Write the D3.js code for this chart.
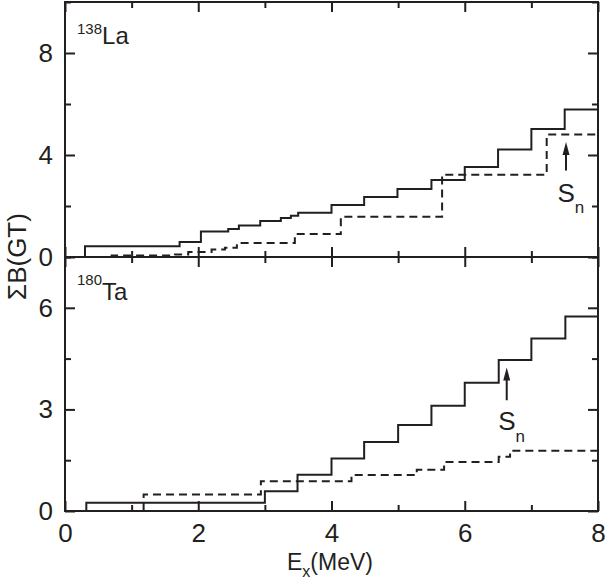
<!DOCTYPE html>
<html>
<head>
<meta charset="utf-8">
<script src="https://cdn.jsdelivr.net/npm/d3@7"></script>
<style>
  html, body { margin: 0; padding: 0; background: #fff; }
  svg { display: block; font-family: "Liberation Sans", Arial, sans-serif; }
</style>
</head>
<body>
<svg id="chart" width="605" height="584"></svg>
<script>
// ---------- data ----------
// 138La: cumulative B(GT) step functions (step edge in MeV, level after the step)
const laSolidEdges  = [0.30, 1.72, 2.04, 2.45, 2.61, 2.93, 3.24, 3.39, 3.50, 4.00, 4.49, 4.99, 5.50, 6.00, 6.50, 7.00, 7.50];
const laSolidLevels = [0.42, 0.59, 1.00, 1.10, 1.24, 1.41, 1.53, 1.62, 1.74, 2.04, 2.35, 2.67, 3.02, 3.53, 4.22, 5.02, 5.78];
const laDashEdges   = [0.70, 1.65, 1.85, 2.20, 2.40, 2.58, 3.45, 4.14, 5.66, 7.23];
const laDashLevels  = [0.06, 0.10, 0.20, 0.29, 0.36, 0.55, 0.90, 1.58, 3.23, 4.80];
// 180Ta
const taSolidEdges  = [0.32, 3.00, 3.49, 4.00, 4.49, 5.00, 5.50, 6.00, 6.51, 7.00, 7.51];
const taSolidLevels = [0.24, 0.58, 1.07, 1.55, 2.04, 2.54, 3.11, 3.79, 4.46, 5.09, 5.74];
const taDashEdges   = [1.18, 2.94, 4.30, 5.28, 5.69, 6.51, 6.68];
const taDashLevels  = [0.49, 0.88, 1.06, 1.22, 1.45, 1.60, 1.78];
// neutron separation energy markers: [Sn in MeV, arrow tail value, arrow tip value, label value]
const laSn = [7.52, 3.39, 4.51, 2.16];
const taSn = [6.63, 3.27, 4.24, 2.39];

const xMax = 8;
const xMajorTicks = [0, 2, 4, 6, 8];
const xMinorTicks = [1, 3, 5, 7];
const laYMajor = [0, 4, 8];
const laYMinor = [2, 6, 10];
const taYMajor = [0, 3, 6];
const taYMinor = [1.5, 4.5, 7.5];

// ---------- layout ----------
const left = 65, right = 598, top1 = 2, mid = 257, bot = 511;
const ink = "#231f20";
const svg = d3.select("#chart");

const x = d3.scaleLinear([0, xMax], [left, right]);
const yLa = d3.scaleLinear([0, 10], [mid, top1]);
const yTa = d3.scaleLinear([0, 7.5], [bot, mid]);

function stepPoints(edges, levels) {
  const pts = [[edges[0], 0]];
  edges.forEach((e, i) => pts.push([e, levels[i]]));
  pts.push([xMax, levels[levels.length - 1]]);
  return pts;
}

function drawPanel(y, yMajor, yMinor, showXLabels, solidE, solidL, dashE, dashL, sn, isoMass, isoName, isoSupDy, isoBase) {
  const g = svg.append("g");
  const line = d3.line().x(d => x(d[0])).y(d => y(d[1])).curve(d3.curveStepAfter);

  g.append("path").datum(stepPoints(solidE, solidL))
    .attr("d", line).attr("fill", "none").attr("stroke", ink)
    .attr("stroke-width", 2).attr("stroke-linejoin", "miter");
  g.append("path").datum(stepPoints(dashE, dashL))
    .attr("d", line).attr("fill", "none").attr("stroke", ink)
    .attr("stroke-width", 2).attr("stroke-dasharray", "8,5");

  const [y0, y1] = y.range();
  const axes = [
    [d3.axisBottom(x).tickValues(xMajorTicks).tickSize(-10), `translate(0,${y0})`, showXLabels, 13],
    [d3.axisBottom(x).tickValues(xMinorTicks).tickSize(-6), `translate(0,${y0})`, false, 0],
    [d3.axisTop(x).tickValues(xMajorTicks).tickSize(-10), `translate(0,${y1})`, false, 0],
    [d3.axisTop(x).tickValues(xMinorTicks).tickSize(-6), `translate(0,${y1})`, false, 0],
    [d3.axisLeft(y).tickValues(yMajor).tickSize(-10), `translate(${left},0)`, true, 12],
    [d3.axisLeft(y).tickValues(yMinor).tickSize(-6), `translate(${left},0)`, false, 0],
    [d3.axisRight(y).tickValues(yMajor).tickSize(-10), `translate(${right},0)`, false, 0],
    [d3.axisRight(y).tickValues(yMinor).tickSize(-6), `translate(${right},0)`, false, 0],
  ];
  axes.forEach(([ax, tr, labels, pad]) => {
    ax.tickPadding(pad).tickFormat(labels ? d3.format("d") : "");
    const a = g.append("g").attr("transform", tr).call(ax);
    a.select(".domain").remove();
    a.selectAll("line").attr("stroke", ink).attr("stroke-width", 2);
    a.selectAll("text").attr("fill", ink).attr("font-size", 26)
      .attr("font-family", "Liberation Sans, Arial, sans-serif");
  });
  g.append("rect").attr("x", left).attr("y", y1).attr("width", right - left).attr("height", y0 - y1)
    .attr("fill", "none").attr("stroke", ink).attr("stroke-width", 2);

  // Sn arrow
  const [snE, tail, tip, lab] = sn;
  const ax0 = x(snE);
  g.append("line").attr("x1", ax0).attr("x2", ax0).attr("y1", y(tail)).attr("y2", y(tip) + 10)
    .attr("stroke", ink).attr("stroke-width", 2);
  g.append("path")
    .attr("d", `M${ax0},${y(tip)} L${ax0 - 3.5},${y(tip) + 13} L${ax0 + 3.5},${y(tip) + 13} Z`)
    .attr("fill", ink);
  const t = g.append("text").attr("x", ax0 - 8.5).attr("y", y(lab))
    .attr("font-size", 26).attr("fill", ink);
  t.append("tspan").text("S");
  t.append("tspan").attr("dy", 11.5).attr("font-size", 17).text("n");

  // isotope label
  const it = g.append("text").attr("x", 77).attr("y", y1 + isoBase)
    .attr("fill", ink).attr("font-size", 24);
  it.append("tspan").attr("font-size", 15).attr("dy", isoSupDy).text(isoMass);
  it.append("tspan").attr("dy", -isoSupDy).text(isoName);
}

drawPanel(yLa, laYMajor, laYMinor, false, laSolidEdges, laSolidLevels, laDashEdges, laDashLevels, laSn, "138", "La", -10, 41.5);
drawPanel(yTa, taYMajor, taYMinor, true, taSolidEdges, taSolidLevels, taDashEdges, taDashLevels, taSn, "180", "Ta", -15, 42.5);

// axis titles
svg.append("text").attr("transform", `translate(26,${(top1 + bot) / 2}) rotate(-90)`)
  .attr("text-anchor", "middle").attr("font-size", 26).attr("fill", ink).text("ΣB(GT)");
const xt = svg.append("text").attr("x", 287).attr("y", 570).attr("font-size", 23).attr("fill", ink);
xt.append("tspan").text("E");
xt.append("tspan").attr("font-size", 16).attr("dy", 7).text("x");
xt.append("tspan").attr("dy", -7).text("(MeV)");
</script>
</body>
</html>
